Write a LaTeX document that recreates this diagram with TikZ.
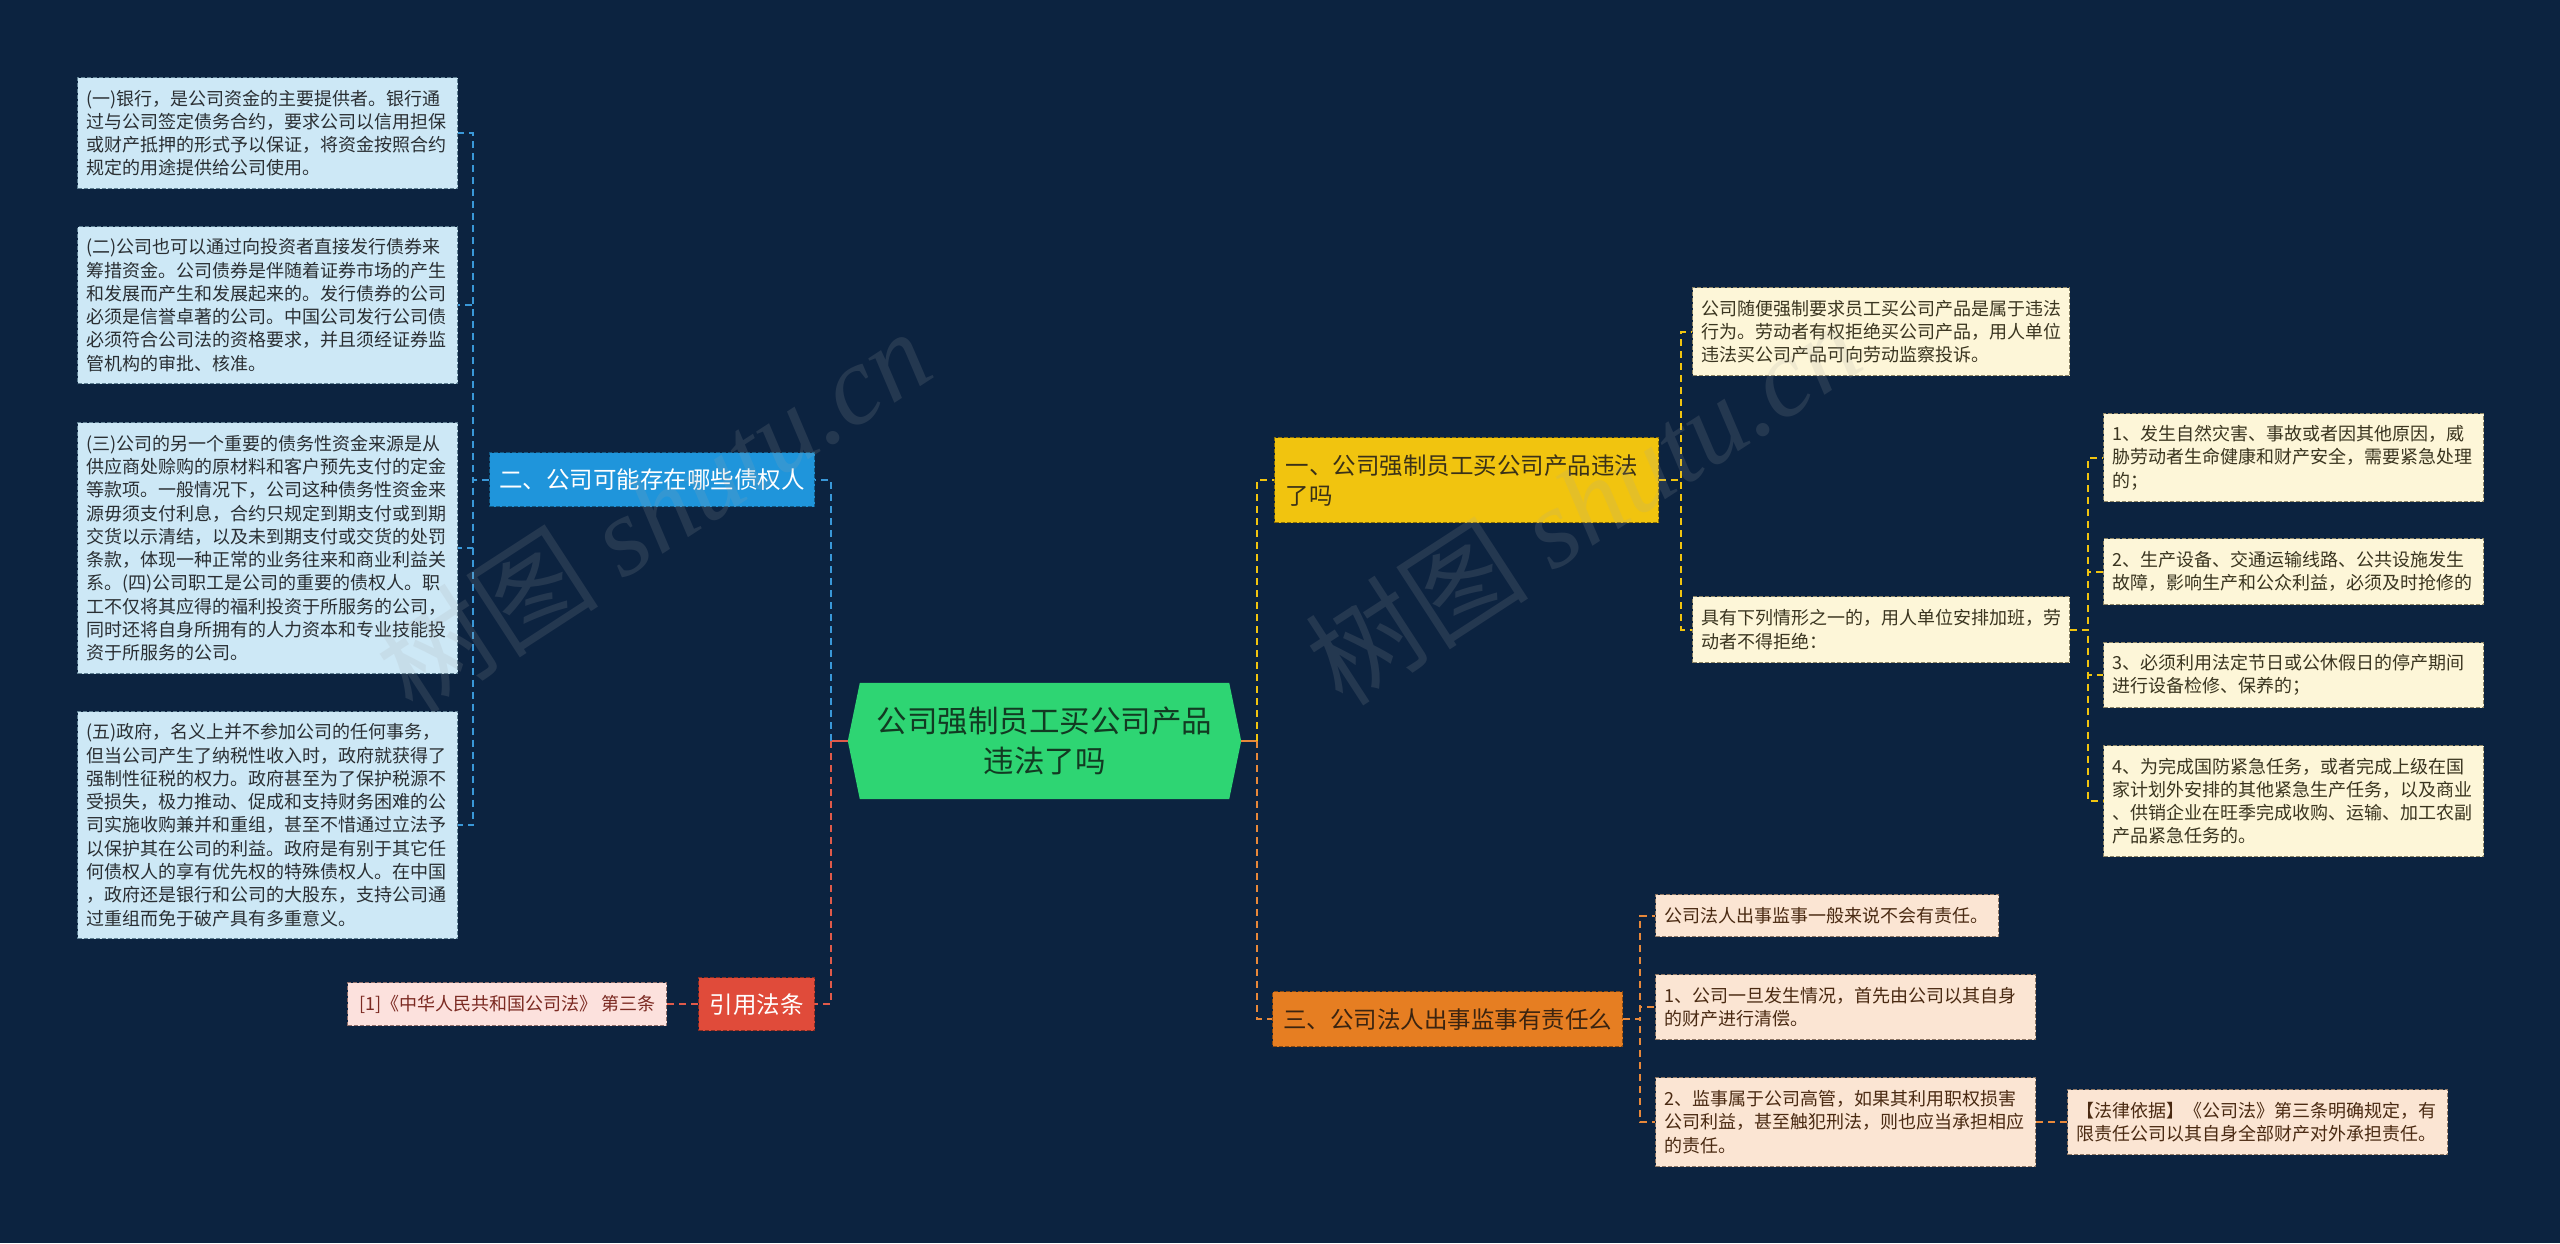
\documentclass[tikz,border=0pt]{standalone}
\usepackage{fontspec}
\setmainfont{Noto Sans CJK SC}
\newfontfamily\wmlatin{Liberation Serif}
\usetikzlibrary{calc}
\pgfdeclarelayer{behind}
\pgfsetlayers{behind,main}
\definecolor{bgc}{HTML}{0C2340}
\definecolor{lbfill}{HTML}{CDE8F6}
\definecolor{lbdraw}{HTML}{5E7F92}
\definecolor{lbtext}{HTML}{2A2F33}
\definecolor{bnfill}{HTML}{1F95DB}
\definecolor{bconnc}{HTML}{3A98D8}
\definecolor{ynfill}{HTML}{F1C40F}
\definecolor{yndraw}{HTML}{8A6E08}
\definecolor{yntext}{HTML}{3A3118}
\definecolor{ycfill}{HTML}{FDF6D8}
\definecolor{ycdraw}{HTML}{8C8466}
\definecolor{yctext}{HTML}{3A3520}
\definecolor{yconnc}{HTML}{F1C40F}
\definecolor{onfill}{HTML}{E67E22}
\definecolor{ondraw}{HTML}{8A4A12}
\definecolor{ontext}{HTML}{3B2410}
\definecolor{ocfill}{HTML}{FBE5D3}
\definecolor{ocdraw}{HTML}{8E7765}
\definecolor{octext}{HTML}{4A2A12}
\definecolor{oconnc}{HTML}{E8883A}
\definecolor{rnfill}{HTML}{E04B3A}
\definecolor{rconnc}{HTML}{E05A4A}
\definecolor{ctfill}{HTML}{FCE1DD}
\definecolor{ctdraw}{HTML}{8E6D69}
\definecolor{cttext}{HTML}{7B2A22}
\definecolor{cfill}{HTML}{2ED573}
\definecolor{ctxt}{HTML}{123A22}
\tikzset{
  smalltext/.style={font=\fontsize{18pt}{23.3pt}\selectfont},
  bigtext/.style={font=\fontsize{23.5pt}{30pt}\selectfont},
  boxbase/.style={rectangle, anchor=north west, inner xsep=9pt, inner ysep=0pt,
     line width=1.2pt, dash pattern=on 4pt off 2pt, align=left},
  lbox/.style={boxbase, smalltext, fill=lbfill, draw=lbdraw, text=lbtext},
  ybox/.style={boxbase, smalltext, fill=ycfill, draw=ycdraw, text=yctext},
  obox/.style={boxbase, smalltext, fill=ocfill, draw=ocdraw, text=octext},
  conn/.style={line width=2pt, dash pattern=on 7pt off 5pt},
  stub/.style={line width=2.4pt},
  wm/.style={text=gray!70, opacity=0.16, rotate=33, font=\fontsize{112pt}{112pt}\selectfont}
}
\begin{document}
\begin{tikzpicture}[x=1pt, y=-1pt]
\useasboundingbox (0,0) rectangle (2560,1243);
\begin{pgfonlayer}{behind}
\fill[bgc] (0,0) rectangle (2560,1243);
\end{pgfonlayer}

% ---------- centre ----------
\node[text=ctxt, minimum width=393pt, minimum height=116pt, inner sep=0pt, align=center,
      font=\fontsize{30.5pt}{40pt}\selectfont] (c) at (1044.5,741) {公司强制员工买公司产品\\违法了吗};
\begin{pgfonlayer}{behind}
\fill[cfill] (c.west) -- ([xshift=12pt]c.north west) -- ([xshift=-12pt]c.north east) -- (c.east)
   -- ([xshift=-12pt]c.south east) -- ([xshift=12pt]c.south west) -- cycle;
\end{pgfonlayer}

% ---------- left branch ----------
\node[boxbase, bigtext, fill=bnfill, draw=bnfill!60!black, text=white, align=center,
      minimum width=325pt, minimum height=54pt] (bn) at (489,452) {二、公司可能存在哪些债权人};

\node[lbox, minimum width=380pt, minimum height=111pt, text width=362pt] (l1) at (77,77)
{(一)银行，是公司资金的主要提供者。银行通\\过与公司签定债务合约，要求公司以信用担保\\或财产抵押的形式予以保证，将资金按照合约\\规定的用途提供给公司使用。};
\node[lbox, minimum width=380pt, minimum height=157pt, text width=362pt] (l2) at (77,226)
{(二)公司也可以通过向投资者直接发行债券来\\筹措资金。公司债券是伴随着证券市场的产生\\和发展而产生和发展起来的。发行债券的公司\\必须是信誉卓著的公司。中国公司发行公司债\\必须符合公司法的资格要求，并且须经证券监\\管机构的审批、核准。};
\node[lbox, minimum width=380pt, minimum height=251pt, text width=362pt] (l3) at (77,422)
{(三)公司的另一个重要的债务性资金来源是从\\供应商处赊购的原材料和客户预先支付的定金\\等款项。一般情况下，公司这种债务性资金来\\源毋须支付利息，合约只规定到期支付或到期\\交货以示清结，以及未到期支付或交货的处罚\\条款，体现一种正常的业务往来和商业利益关\\系。(四)公司职工是公司的重要的债权人。职\\工不仅将其应得的福利投资于所服务的公司，\\同时还将自身所拥有的人力资本和专业技能投\\资于所服务的公司。};
\node[lbox, minimum width=380pt, minimum height=227pt, text width=362pt] (l4) at (77,711)
{(五)政府，名义上并不参加公司的任何事务，\\但当公司产生了纳税性收入时，政府就获得了\\强制性征税的权力。政府甚至为了保护税源不\\受损失，极力推动、促成和支持财务困难的公\\司实施收购兼并和重组，甚至不惜通过立法予\\以保护其在公司的利益。政府是有别于其它任\\何债权人的享有优先权的特殊债权人。在中国\\，政府还是银行和公司的大股东，支持公司通\\过重组而免于破产具有多重意义。};

\node[boxbase, bigtext, fill=rnfill, draw=rnfill!60!black, text=white, align=center,
      minimum width=116pt, minimum height=53pt] (yf) at (698,977) {引用法条};
\node[boxbase, smalltext, fill=ctfill, draw=ctdraw, text=cttext, align=center,
      minimum width=319pt, minimum height=43pt] (ct) at (347,982) {[1]《中华人民共和国公司法》 第三条};

% ---------- right branch ----------
\node[boxbase, bigtext, fill=ynfill, draw=yndraw, text=yntext, inner xsep=11pt,
      minimum width=384pt, minimum height=85pt, text width=362pt] (yn) at (1274,437)
{一、公司强制员工买公司产品违法\\了吗};
\node[ybox, minimum width=377pt, minimum height=88pt, text width=359pt] (r1) at (1692,287)
{公司随便强制要求员工买公司产品是属于违法\\行为。劳动者有权拒绝买公司产品，用人单位\\违法买公司产品可向劳动监察投诉。};
\node[ybox, minimum width=377pt, minimum height=66pt, text width=359pt] (r2) at (1692,596)
{具有下列情形之一的，用人单位安排加班，劳\\动者不得拒绝：};
\node[ybox, minimum width=380pt, minimum height=88pt, text width=362pt] (s1) at (2103,413)
{1、发生自然灾害、事故或者因其他原因，威\\胁劳动者生命健康和财产安全，需要紧急处理\\的；};
\node[ybox, minimum width=380pt, minimum height=66pt, text width=362pt] (s2) at (2103,538)
{2、生产设备、交通运输线路、公共设施发生\\故障，影响生产和公众利益，必须及时抢修的};
\node[ybox, minimum width=380pt, minimum height=65pt, text width=362pt] (s3) at (2103,642)
{3、必须利用法定节日或公休假日的停产期间\\进行设备检修、保养的；};
\node[ybox, minimum width=380pt, minimum height=111pt, text width=362pt] (s4) at (2103,745)
{4、为完成国防紧急任务，或者完成上级在国\\家计划外安排的其他紧急生产任务，以及商业\\、供销企业在旺季完成收购、运输、加工农副\\产品紧急任务的。};

\node[boxbase, bigtext, fill=onfill, draw=ondraw, text=ontext, align=center,
      minimum width=350pt, minimum height=55pt] (on) at (1272,991) {三、公司法人出事监事有责任么};
\node[obox, minimum width=343pt, minimum height=42pt, text width=325pt] (oa) at (1655,894)
{公司法人出事监事一般来说不会有责任。};
\node[obox, minimum width=380pt, minimum height=65pt, text width=362pt] (ob) at (1655,974)
{1、公司一旦发生情况，首先由公司以其自身\\的财产进行清偿。};
\node[obox, minimum width=380pt, minimum height=89pt, text width=362pt] (oc) at (1655,1077)
{2、监事属于公司高管，如果其利用职权损害\\公司利益，甚至触犯刑法，则也应当承担相应\\的责任。};
\node[obox, minimum width=380pt, minimum height=65pt, text width=362pt] (od) at (2067,1089)
{【法律依据】《公司法》第三条明确规定，有\\限责任公司以其自身全部财产对外承担责任。};

% ---------- connectors ----------
\coordinate (cL) at ([xshift=-17pt]c.west);
\coordinate (cR) at ([xshift=16pt]c.east);
\draw[stub, rconnc] (c.west) -- (cL);
\draw[stub, oconnc] (c.east) -- (cR);
\draw[conn, bconnc] (cL) |- (bn.east);
\draw[conn, rconnc] (cL) |- (yf.east);
\draw[conn, yconnc] (cR) |- (yn.west);
\draw[conn, oconnc] (cR) |- (on.west);

\foreach \n in {l1,l2,l3,l4}{
  \draw[conn, bconnc] (bn.west) -- ++(-16,0) |- (\n.east);
}
\draw[conn, rconnc] (yf.west) -- (ct.east);

\foreach \n in {r1,r2}{
  \draw[conn, yconnc] (yn.east) -- ++(22,0) |- (\n.west);
}
\foreach \n in {s1,s2,s3,s4}{
  \draw[conn, yconnc] (r2.east) -- ++(18,0) |- (\n.west);
}
\foreach \n in {oa,ob,oc}{
  \draw[conn, oconnc] (on.east) -- ++(17,0) |- (\n.west);
}
\draw[conn, oconnc] (oc.east) -- (od.west);

% ---------- watermarks ----------
\node[wm] (wm1) at (653,510) {树图 {\wmlatin\itshape shutu.cn}};
\node[wm] (wm2) at (1583,502) {树图 {\wmlatin\itshape shutu.cn}};
\end{tikzpicture}
\end{document}
